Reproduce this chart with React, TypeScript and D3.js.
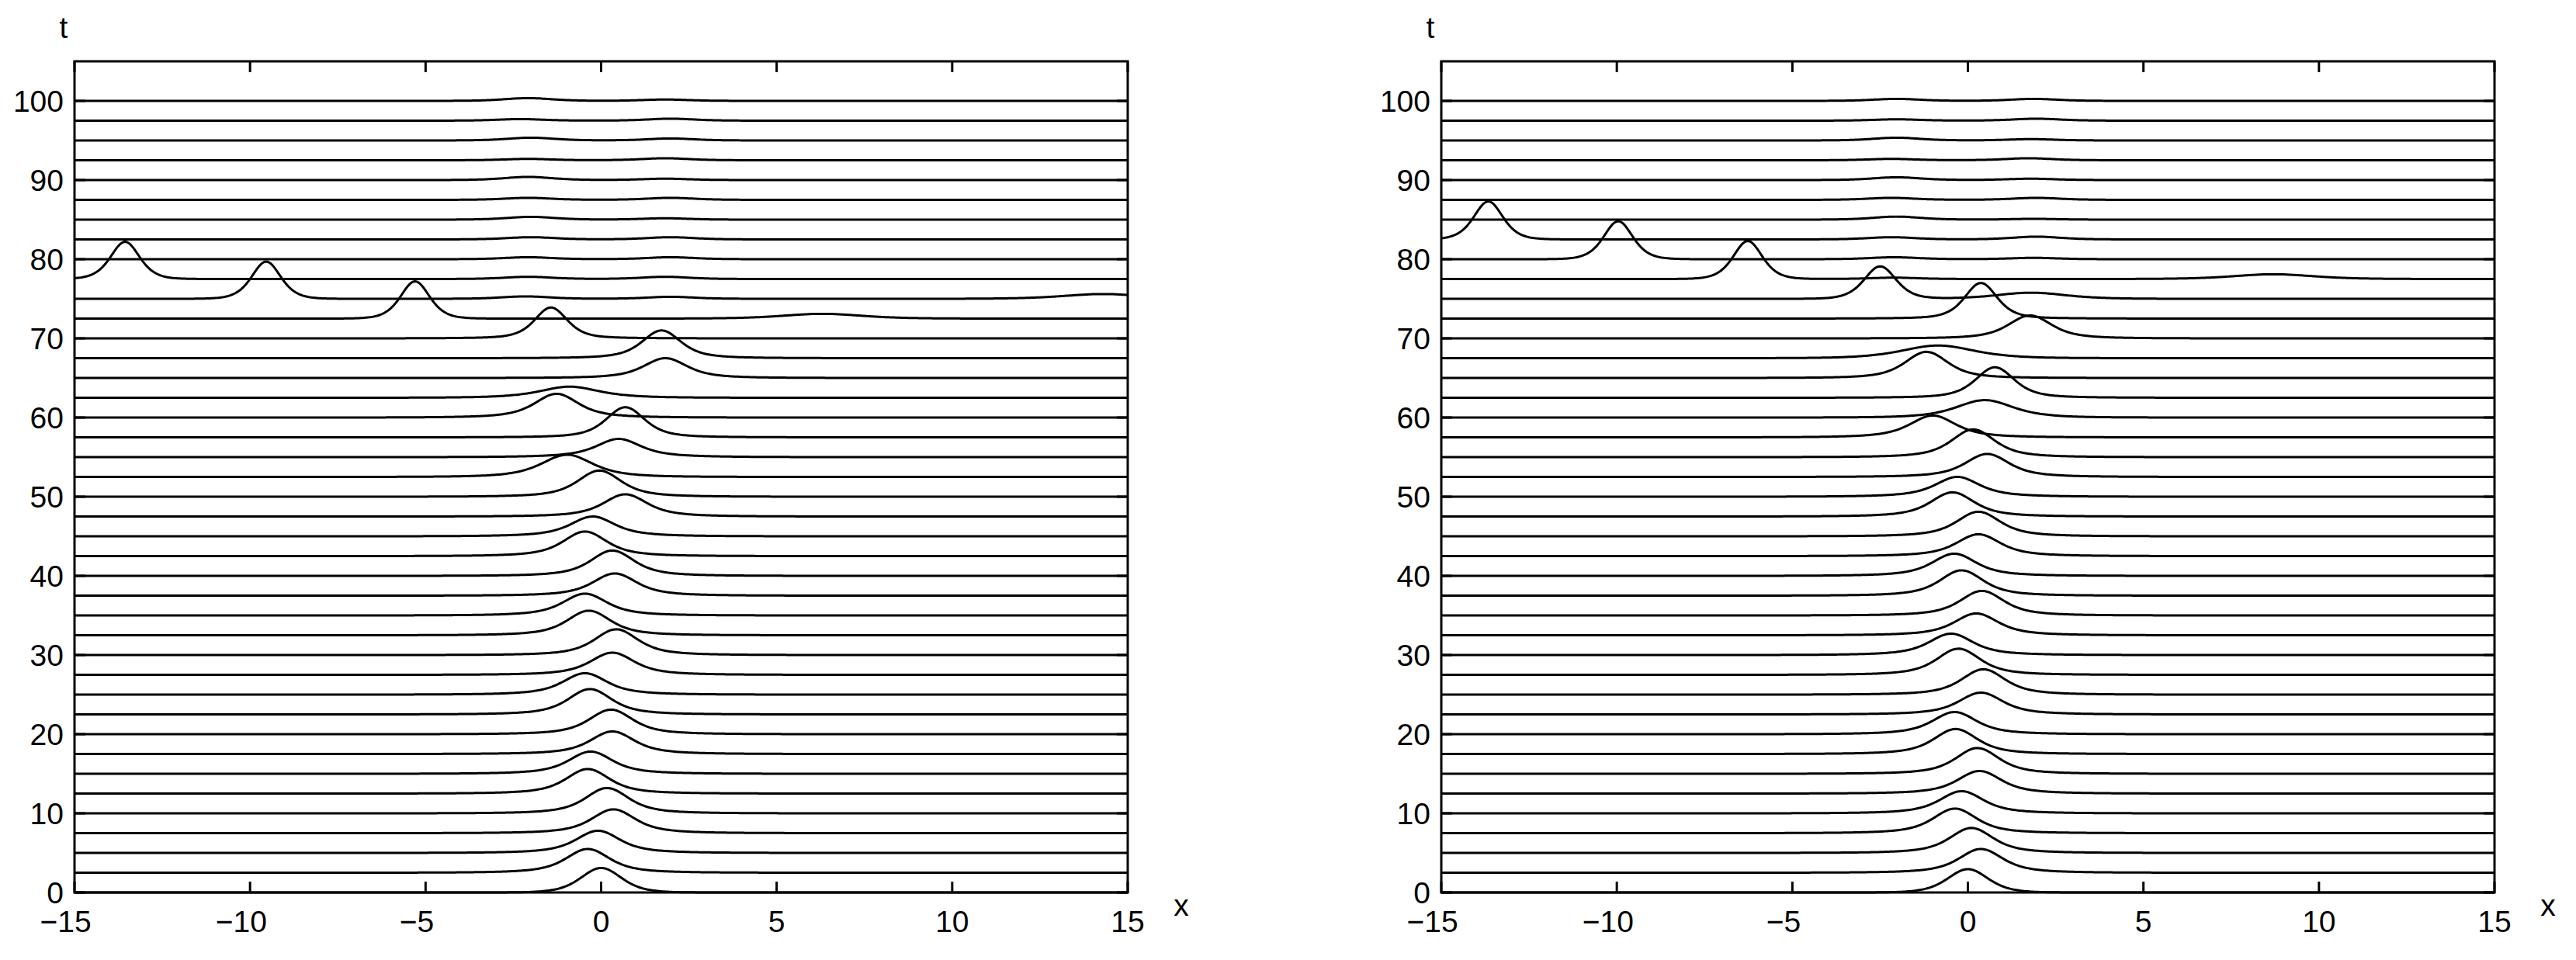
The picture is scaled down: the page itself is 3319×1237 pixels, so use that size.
import React from 'react';
import * as d3 from 'd3';

const width = 3319;
const height = 1237;
const plotTop = 79;
const plotBottom = 1150;
const plotWidth = 1357;
const panelLefts = [96, 1857];

// one profile per time level (offset along t)
const tLevels = [
  0, 2.5, 5, 7.5, 10, 12.5, 15, 17.5, 20, 22.5, 25, 27.5, 30, 32.5, 35, 37.5, 40,
  42.5, 45, 47.5, 50, 52.5, 55, 57.5, 60, 62.5, 65, 67.5, 70, 72.5, 75, 77.5, 80,
  82.5, 85, 87.5, 90, 92.5, 95, 97.5, 100,
];
const xTicks = [-15, -10, -5, 0, 5, 10, 15];
const tTicks = [0, 10, 20, 30, 40, 50, 60, 70, 80, 90, 100];

// peaks: [t, centre x, height, width, shelf height]
const leftPeaks = [
  [0, 0.0, 3.1, 0.77, 0],
  [2.5, -0.38, 3.0, 0.77, 0.4],
  [5, -0.09, 2.8, 0.77, 0.4],
  [7.5, 0.35, 3.0, 0.77, 0.4],
  [10, 0.17, 3.2, 0.77, 0.4],
  [12.5, -0.38, 3.1, 0.77, 0.4],
  [15, -0.3, 2.8, 0.77, 0.4],
  [17.5, 0.32, 2.85, 0.77, 0.4],
  [20, 0.28, 3.1, 0.77, 0.4],
  [22.5, -0.32, 3.2, 0.77, 0.4],
  [25, -0.46, 2.7, 0.77, 0.4],
  [27.5, 0.32, 2.8, 0.77, 0.4],
  [30, 0.43, 3.25, 0.77, 0.4],
  [32.5, -0.35, 3.1, 0.77, 0.4],
  [35, -0.46, 2.75, 0.77, 0.4],
  [37.5, 0.39, 2.8, 0.77, 0.4],
  [40, 0.32, 3.2, 0.77, 0.4],
  [42.5, -0.46, 3.1, 0.77, 0.4],
  [45, -0.24, 2.5, 0.77, 0.4],
  [47.5, 0.69, 2.8, 0.77, 0.4],
  [50, -0.05, 3.3, 0.77, 0.4],
  [52.5, -0.97, 2.8, 0.9, 0.4],
  [55, 0.5, 2.3, 0.77, 0.4],
  [57.5, 0.69, 3.8, 0.7, 0.3],
  [60, -1.27, 3.0, 0.77, 0.4],
  [62.5, -0.9, 1.4, 1.0, 0.3],
  [65, 1.83, 2.5, 0.77, 0.3],
  [67.5, 1.72, 3.5, 0.7, 0.3],
  [70, -1.43, 3.9, 0.6, 0.2],
  [72.5, -5.3, 4.7, 0.55, 0],
  [75, -9.54, 4.7, 0.55, 0],
  [77.5, -13.56, 4.7, 0.55, 0],
  [72.5, 6.3, 0.6, 1.5, 0],
  [75, 14.3, 0.6, 1.5, 0],
];

const rightPeaks = [
  [0, 0.0, 2.95, 0.77, 0],
  [2.5, 0.37, 3.0, 0.77, 0.4],
  [5, 0.1, 3.15, 0.77, 0.4],
  [7.5, -0.37, 3.1, 0.77, 0.4],
  [10, -0.18, 2.8, 0.77, 0.4],
  [12.5, 0.33, 2.85, 0.77, 0.4],
  [15, 0.27, 3.25, 0.77, 0.4],
  [17.5, -0.35, 3.15, 0.77, 0.4],
  [20, -0.38, 2.8, 0.77, 0.4],
  [22.5, 0.37, 2.75, 0.77, 0.4],
  [25, 0.44, 3.2, 0.77, 0.4],
  [27.5, -0.27, 3.3, 0.77, 0.4],
  [30, -0.48, 2.7, 0.77, 0.4],
  [32.5, 0.24, 2.75, 0.77, 0.4],
  [35, 0.4, 3.1, 0.77, 0.4],
  [37.5, -0.18, 3.2, 0.77, 0.4],
  [40, -0.39, 2.8, 0.77, 0.4],
  [42.5, 0.3, 2.75, 0.77, 0.4],
  [45, 0.3, 3.1, 0.77, 0.4],
  [47.5, -0.44, 3.05, 0.77, 0.4],
  [50, -0.3, 2.5, 0.77, 0.4],
  [52.5, 0.55, 2.9, 0.77, 0.4],
  [55, 0.15, 3.5, 0.77, 0.4],
  [57.5, -1.0, 2.75, 0.8, 0.4],
  [60, 0.48, 2.2, 1.0, 0.3],
  [62.5, 0.77, 3.85, 0.7, 0.3],
  [65, -1.18, 3.3, 0.77, 0.3],
  [67.5, -0.85, 1.6, 1.3, 0.2],
  [70, 1.77, 2.9, 0.77, 0.3],
  [72.5, 0.37, 4.5, 0.6, 0.2],
  [75, -2.5, 4.1, 0.6, 0],
  [77.5, -6.27, 4.8, 0.55, 0],
  [80, -9.96, 4.8, 0.55, 0],
  [82.5, -13.66, 4.8, 0.55, 0],
  [75, 1.8, 0.77, 1.3, 0],
  [77.5, 8.7, 0.6, 1.5, 0],
];

// small radiation humps on the upper profiles: [t, x, height]
const leftRipples = [
  [100, -2.08, 0.35], [100, 1.83, 0.17],
  [97.5, -2.3, 0.2], [97.5, 1.98, 0.25],
  [95, -2.0, 0.35], [95, 1.98, 0.25],
  [92.5, -2.08, 0.17], [92.5, 1.83, 0.25],
  [90, -2.08, 0.4], [90, 1.83, 0.17],
  [87.5, -2.08, 0.25], [87.5, 1.98, 0.25],
  [85, -2.0, 0.35], [85, 1.83, 0.17],
  [82.5, -2.0, 0.28], [82.5, 1.98, 0.28],
  [80, -2.08, 0.25], [80, 1.98, 0.25],
  [77.5, -2.08, 0.28], [77.5, 1.83, 0.28],
  [75, -2.15, 0.3], [75, 1.98, 0.25],
];

const rightRipples = [
  [100, -2.03, 0.25], [100, 1.88, 0.25],
  [97.5, -2.03, 0.17], [97.5, 1.95, 0.25],
  [95, -2.03, 0.35], [95, 1.8, 0.17],
  [92.5, -2.18, 0.17], [92.5, 1.73, 0.25],
  [90, -2.03, 0.35], [90, 1.8, 0.17],
  [87.5, -2.18, 0.25], [87.5, 1.95, 0.25],
  [85, -2.03, 0.38], [85, 1.88, 0.1],
  [82.5, -2.18, 0.28], [82.5, 1.95, 0.35],
  [80, -2.1, 0.25], [80, 1.88, 0.17],
  [77.5, -2.1, 0.17],
];

const fontSize = 39;
const font = 'Liberation Sans, Arial, Helvetica, sans-serif';
const sech2 = (u) => {
  const c = Math.cosh(u);
  return 1 / (c * c);
};
const xSamples = d3.range(-15, 15.0001, 0.05);

const Panel = ({ left, peaks, ripples }) => {
  const right = left + plotWidth;
  const xScale = d3.scaleLinear().domain([-15, 15]).range([left, right]);
  const yScale = d3.scaleLinear().domain([0, 105]).range([plotBottom, plotTop]);
  const line = d3.line().x((d) => xScale(d[0])).y((d) => yScale(d[1]));

  const profile = (t) => {
    const ps = peaks.filter((p) => p[0] === t);
    const rs = ripples.filter((r) => r[0] === t);
    return xSamples.map((x) => {
      let u = 0;
      ps.forEach(([, c, h, w, s]) => {
        u += (h - s) * sech2((x - c) / w) + s * sech2((x - c) / 2.0);
      });
      rs.forEach(([, c, h]) => {
        u += h * sech2((x - c) / 0.9);
      });
      return [x, t + u];
    });
  };

  const digitW = 0.556 * fontSize;

  return (
    <g>
      {tLevels.map((t) => (
        <path key={t} d={line(profile(t))} fill="none" stroke="#000"
          strokeWidth={3} strokeLinejoin="round" />
      ))}
      <rect x={left} y={plotTop} width={plotWidth} height={plotBottom - plotTop}
        fill="none" stroke="#000" strokeWidth={3} />
      {xTicks.map((v) => {
        const x = xScale(v);
        const n = String(Math.abs(v)).length;
        return (
          <g key={v}>
            <line x1={x} x2={x} y1={plotBottom} y2={plotBottom - 14} stroke="#000" strokeWidth={3} />
            <line x1={x} x2={x} y1={plotTop} y2={plotTop + 14} stroke="#000" strokeWidth={3} />
            <text x={x + (n * digitW) / 2} y={1201} textAnchor="end"
              fontFamily={font} fontSize={fontSize}>{v < 0 ? '\u2212' + Math.abs(v) : v}</text>
          </g>
        );
      })}
      {tTicks.map((v) => {
        const y = yScale(v);
        return (
          <g key={v}>
            <line x1={left} x2={left + 14} y1={y} y2={y} stroke="#000" strokeWidth={3} />
            <line x1={right} x2={right - 14} y1={y} y2={y} stroke="#000" strokeWidth={3} />
            <text x={left - 14} y={y + 14} textAnchor="end"
              fontFamily={font} fontSize={fontSize}>{v}</text>
          </g>
        );
      })}
      <text x={left - 14} y={49} textAnchor="middle" fontFamily={font} fontSize={fontSize}>t</text>
      <text x={right + 69} y={1180} textAnchor="middle" fontFamily={font} fontSize={fontSize}>x</text>
    </g>
  );
};

export default function App() {
  return (
    <svg width={width} height={height} viewBox={`0 0 ${width} ${height}`}
      style={{ position: 'absolute', left: 0, top: 0, background: '#fff' }}>
      <rect width={width} height={height} fill="#fff" />
      <Panel left={panelLefts[0]} peaks={leftPeaks} ripples={leftRipples} />
      <Panel left={panelLefts[1]} peaks={rightPeaks} ripples={rightRipples} />
    </svg>
  );
}
